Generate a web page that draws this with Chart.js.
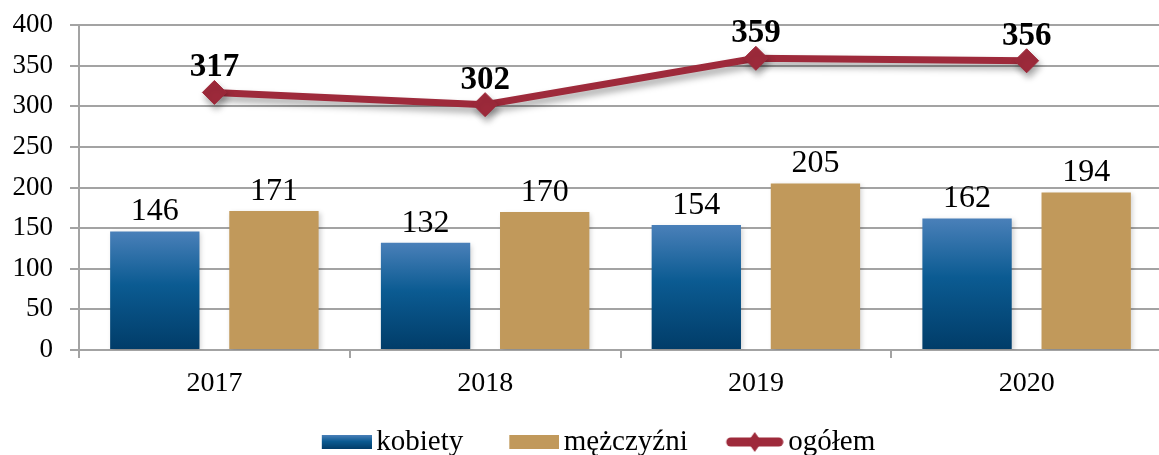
<!DOCTYPE html>
<html lang="pl">
<head>
<meta charset="utf-8">
<script src="https://cdn.jsdelivr.net/npm/chart.js@4"></script>
<style>
  html, body { margin: 0; padding: 0; background: #fff; overflow: hidden; }
  #wrap { position: relative; width: 1175px; height: 455px; }
</style>
</head>
<body>
<div id="wrap"><canvas id="chart"></canvas></div>
<script>
const years = ["2017", "2018", "2019", "2020"];
const kobiety = [146, 132, 154, 162];
const mezczyzni = [171, 170, 205, 194];
const ogolem = [317, 302, 359, 356];
const yMax = 400;
const yStep = 50;

const FONT = "'Liberation Serif', 'Times New Roman', serif";
const GRID = "#a3a3a3";
const TAN = "#c1995b";
const RED = "#9e2a3b";

function blueGradient(ctx, top, bottom) {
  const g = ctx.createLinearGradient(0, top, 0, bottom);
  g.addColorStop(0, "#4a80b9");
  g.addColorStop(0.45, "#0b5b92");
  g.addColorStop(1, "#013c68");
  return g;
}

// legend symbols; the blank left part of each canvas spaces the items
function swatch(w, h, draw) {
  const c = document.createElement("canvas");
  c.width = w;
  c.height = h;
  draw(c.getContext("2d"), w, h);
  return c;
}
const legendSymbols = [
  swatch(82, 14, (c, w, h) => {
    c.fillStyle = blueGradient(c, 0, h);
    c.fillRect(32, 0, 50, h);
  }),
  swatch(82, 14, (c, w, h) => {
    c.fillStyle = TAN;
    c.fillRect(32, 0, 50, h);
  }),
  swatch(82, 22, (c, w, h) => {
    const cy = h / 2;
    c.strokeStyle = RED;
    c.fillStyle = RED;
    c.lineWidth = 9;
    c.lineCap = "round";
    c.beginPath();
    c.moveTo(29, cy);
    c.lineTo(77, cy);
    c.stroke();
    const cx = 53;
    c.beginPath();
    c.moveTo(cx, cy - 10);
    c.lineTo(cx + 7, cy);
    c.lineTo(cx, cy + 10);
    c.lineTo(cx - 7, cy);
    c.closePath();
    c.fill();
  }),
];

// soft drop shadow under bars and the line
const shadowPlugin = {
  id: "shadow",
  beforeDatasetDraw(chart, args) {
    const ctx = chart.ctx;
    ctx.save();
    const isLine = chart.data.datasets[args.index].type === "line";
    ctx.shadowColor = isLine ? "rgba(0,0,0,0.35)" : "rgba(0,0,0,0.18)";
    ctx.shadowBlur = isLine ? 7 : 5;
    ctx.shadowOffsetX = 2;
    ctx.shadowOffsetY = isLine ? 5 : 2;
  },
  afterDatasetDraw(chart) {
    chart.ctx.restore();
  },
};

// value labels above bars and points
const valueLabels = {
  id: "valueLabels",
  afterDatasetsDraw(chart) {
    const ctx = chart.ctx;
    ctx.save();
    ctx.textAlign = "center";
    ctx.textBaseline = "alphabetic";
    ctx.fillStyle = "#000";
    chart.data.datasets.forEach((ds, di) => {
      const meta = chart.getDatasetMeta(di);
      const isLine = ds.type === "line";
      ctx.font = (isLine ? "bold 33px " : "32px ") + FONT;
      meta.data.forEach((el, i) => {
        ctx.fillText(String(ds.data[i]), el.x, el.y - (isLine ? 16 : 11));
      });
    });
    ctx.restore();
  },
};

new Chart(document.getElementById("chart"), {
  data: {
    labels: years,
    datasets: [
      {
        type: "line",
        label: "ogółem",
        data: ogolem,
        order: 0,
        borderColor: RED,
        backgroundColor: RED,
        borderWidth: 7,
        pointStyle: "rectRot",
        pointRadius: 12,
        pointBorderWidth: 1,
        pointBackgroundColor: RED,
        pointBorderColor: RED,
        tension: 0,
      },
      {
        type: "bar",
        label: "kobiety",
        data: kobiety,
        order: 1,
        backgroundColor: (c) => {
          const chart = c.chart;
          if (!chart.chartArea || c.raw === undefined) return "#0b5b92";
          const y = chart.scales.y;
          return blueGradient(chart.ctx, y.getPixelForValue(c.raw), y.getPixelForValue(0));
        },
        categoryPercentage: 0.88,
        barPercentage: 0.75,
      },
      {
        type: "bar",
        label: "mężczyźni",
        data: mezczyzni,
        order: 1,
        backgroundColor: TAN,
        categoryPercentage: 0.88,
        barPercentage: 0.75,
      },
    ],
  },
  options: {
    responsive: true,
    maintainAspectRatio: false,
    animation: false,
    layout: { padding: { left: 8, right: 8, top: 25, bottom: -11.5 } },
    scales: {
      x: {
        offset: true,
        afterFit: (s) => { s.height = 53.5; },
        grid: {
          display: true,
          drawOnChartArea: false,
          drawTicks: true,
          tickLength: 8,
          color: GRID,
          lineWidth: 2,
        },
        border: { display: true, color: GRID, width: 2 },
        ticks: { color: "#000", font: { family: FONT, size: 28 }, padding: 9 },
      },
      y: {
        min: 0,
        max: yMax,
        afterFit: (s) => {
          s.width = 71;
          s.paddingTop = 0;
          s.paddingBottom = 0;
        },
        grid: { color: GRID, lineWidth: 2, tickLength: 9 },
        border: { display: true, color: GRID, width: 2 },
        ticks: {
          stepSize: yStep,
          color: "#000",
          font: { family: FONT, size: 27 },
          padding: 17,
        },
      },
    },
    plugins: {
      tooltip: { enabled: false },
      legend: {
        position: "bottom",
        labels: {
          usePointStyle: true,
          pointStyleWidth: 62,
          boxHeight: 14,
          padding: 24,
          color: "#000",
          font: { family: FONT, size: 29 },
          generateLabels: (chart) => {
            const order = [1, 2, 0];
            return order.map((di, k) => ({
              text: chart.data.datasets[di].label,
              datasetIndex: di,
              pointStyle: legendSymbols[k],
              fillStyle: "transparent",
              strokeStyle: "transparent",
              lineWidth: 0,
              fontColor: "#000",
              hidden: false,
            }));
          },
        },
      },
    },
  },
  plugins: [shadowPlugin, valueLabels],
});
</script>
</body>
</html>
